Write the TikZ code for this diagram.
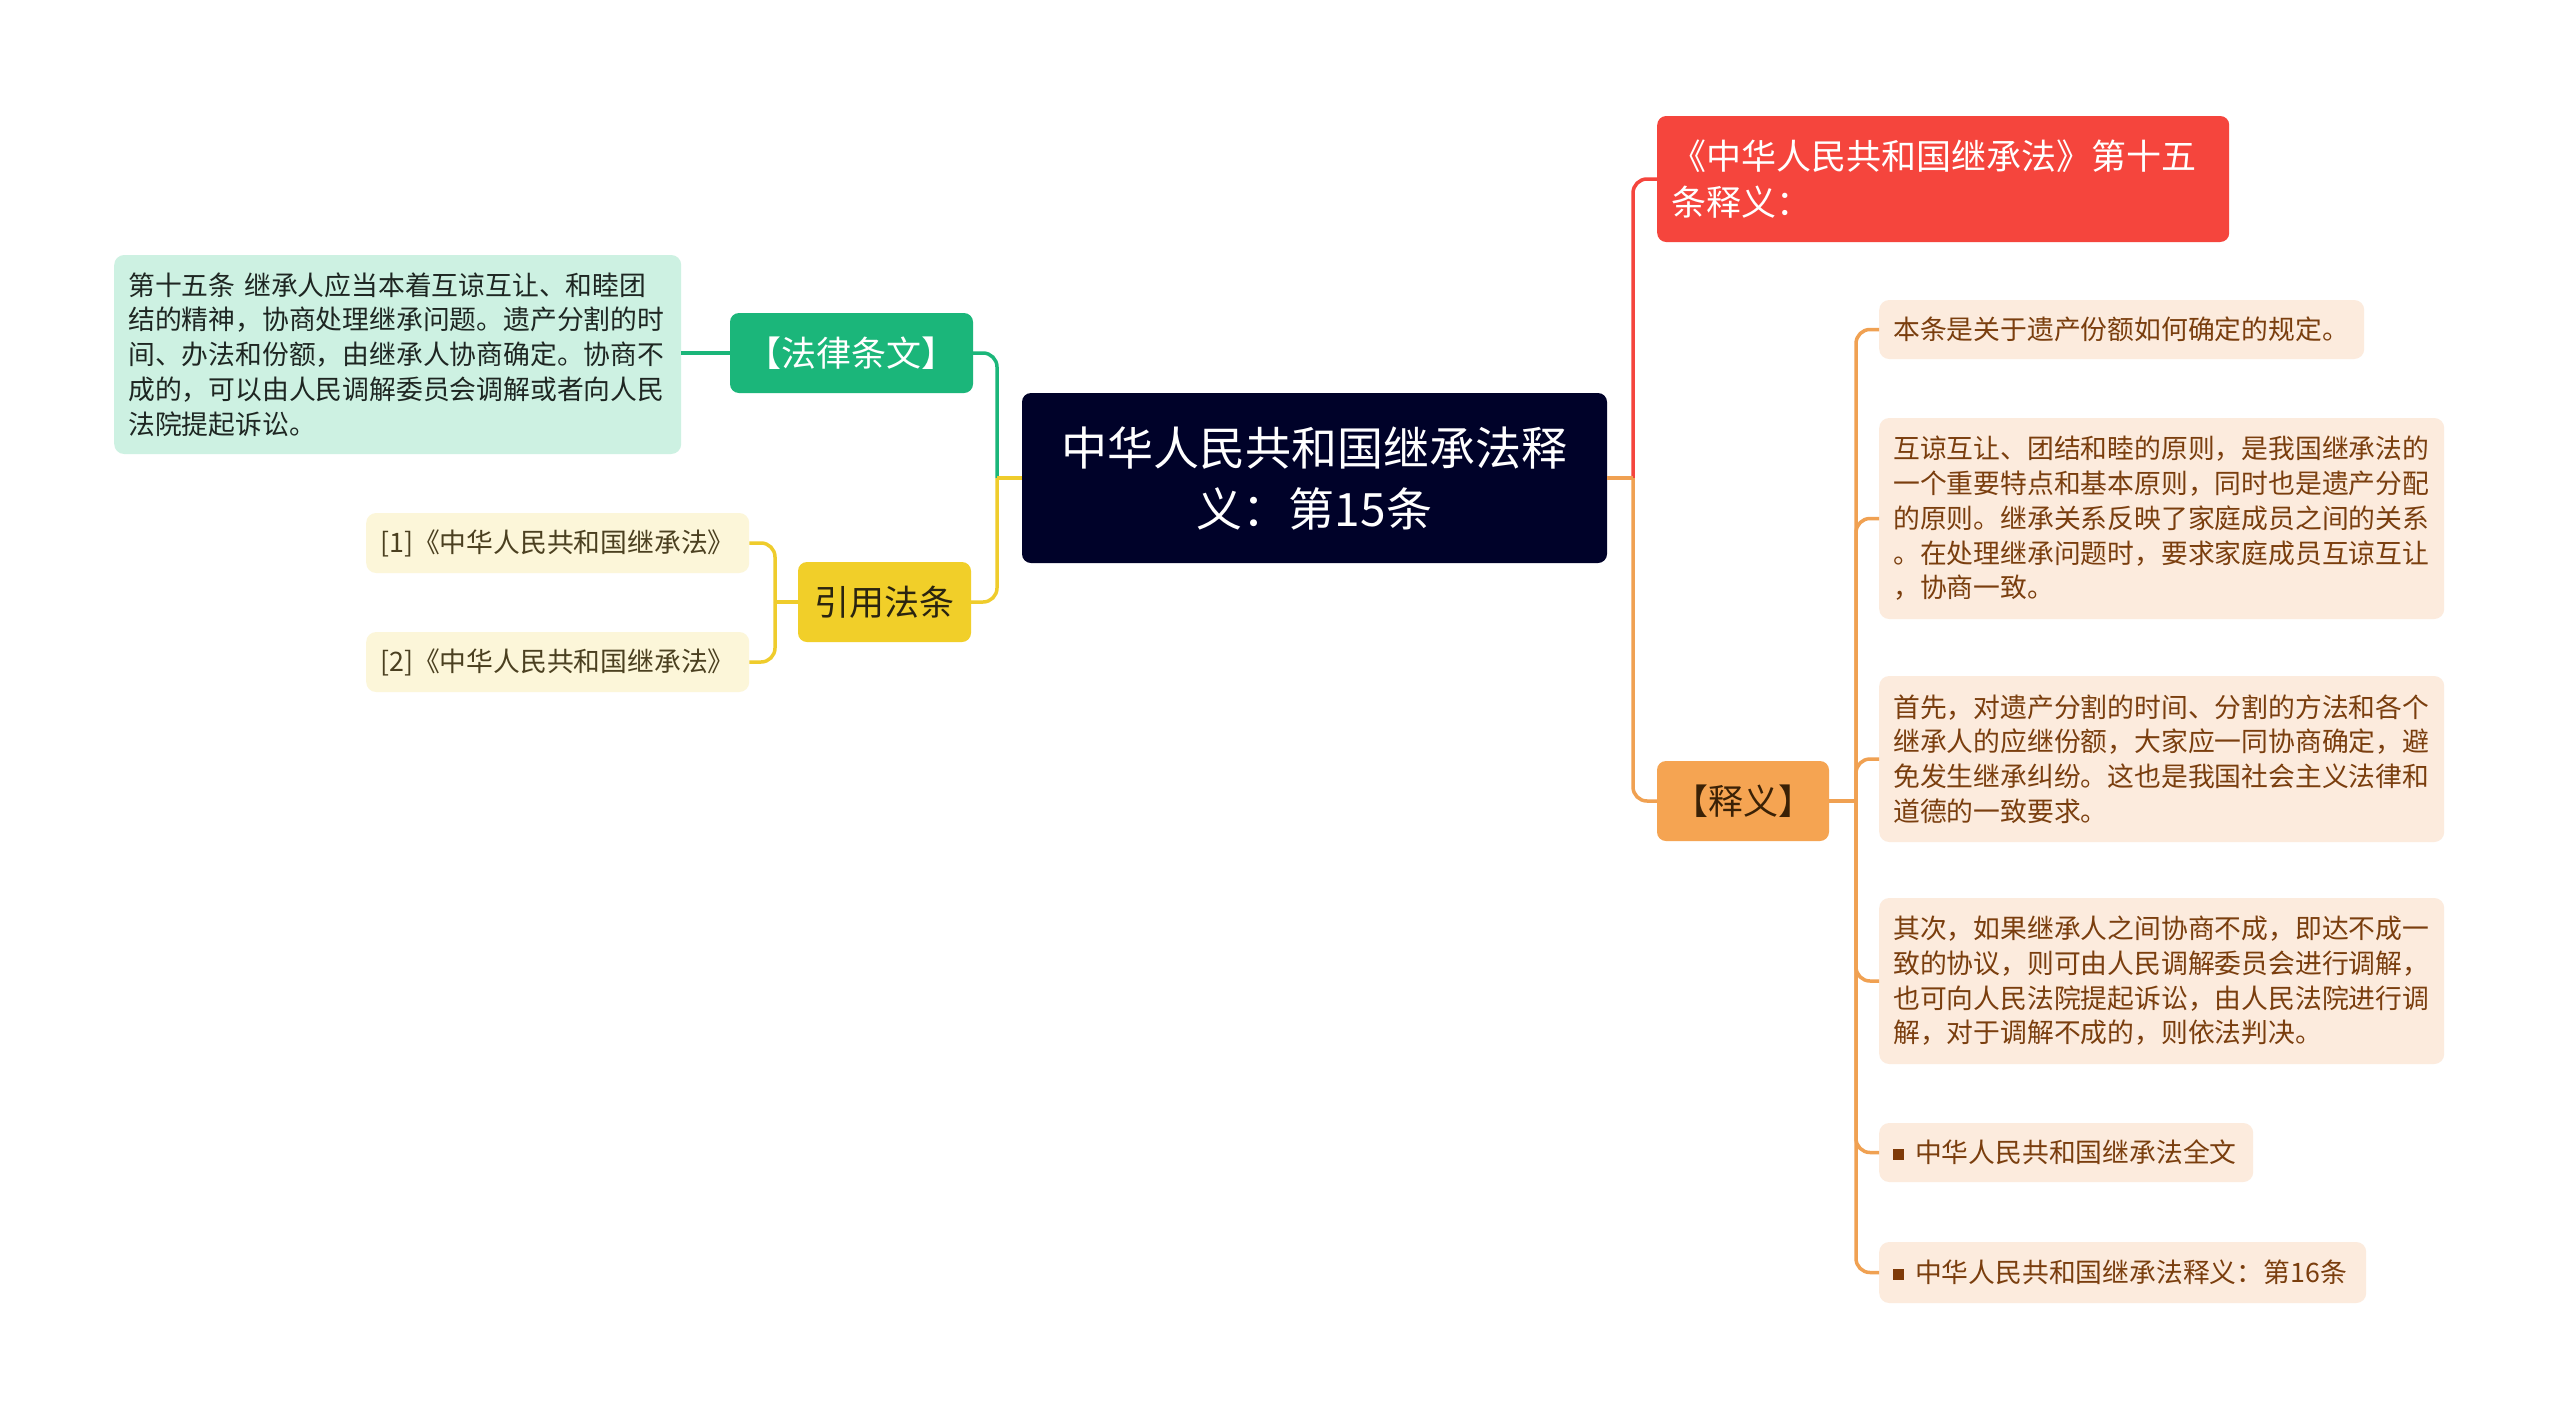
\documentclass[tikz,border=0pt]{standalone}
\usepackage{fontspec}
\newfontfamily\cjk{Noto Sans CJK SC}
\definecolor{navy}{HTML}{000229}
\definecolor{gmain}{HTML}{1BB67A}
\definecolor{gleaf}{HTML}{CDF1E2}
\definecolor{ymain}{HTML}{F1CF29}
\definecolor{yline}{HTML}{EFCC2C}
\definecolor{yleaf}{HTML}{FCF6D9}
\definecolor{rmain}{HTML}{F5453D}
\definecolor{omain}{HTML}{F5A452}
\definecolor{oline}{HTML}{F0A152}
\definecolor{oleaf}{HTML}{FCEBDD}
\definecolor{otext}{HTML}{7A3E0E}
\definecolor{bul}{HTML}{7F3A08}
\definecolor{ytext}{HTML}{4B4020}
\definecolor{dtext}{HTML}{2A2410}
\definecolor{gtext}{HTML}{1E2622}
\definecolor{etext}{HTML}{3A2106}
\newcommand{\bulsq}{\textcolor{bul}{\rule[0.1em]{0.4em}{0.4em}}\hspace{0.42em}}
\begin{document}
\begin{tikzpicture}[x=1pt,y=-1pt,
  basebox/.style={rounded corners=9, inner xsep=14, inner ysep=6},
  centralbox/.style={basebox, fill=navy, text=white, minimum width=585, minimum height=170, align=center,
    font=\cjk\fontsize{46}{61}\selectfont},
  redbox/.style={basebox, fill=rmain, text=white, text width=544, minimum height=126, align=left,
    font=\cjk\fontsize{35}{46}\selectfont},
  mainbox/.style={basebox, minimum height=80, align=center, font=\cjk\fontsize{35}{42}\selectfont},
  leafbox/.style={rounded corners=10, inner xsep=14, inner ysep=6, align=left,
    font=\cjk\fontsize{26.8}{34.7}\selectfont},
  gleafbox/.style={leafbox, fill=gleaf, text=gtext},
  yleafbox/.style={leafbox, fill=yleaf, text=ytext, text width=355, minimum height=60},
  oleafbox/.style={leafbox, fill=oleaf, text=otext},
  link/.style={line width=3.5, rounded corners=14},
]
\useasboundingbox[fill=white] (0,0) rectangle (2560,1419);

% nodes
\node[centralbox] (c) at (1314.5,478) {中华人民共和国继承法释\\义：第15条};
\node[redbox, anchor=west] (r) at (1657,179) {《中华人民共和国继承法》第十五\\条释义：};
\node[mainbox, fill=omain, text=etext, minimum width=172] (e) at (1743,801) {【释义】};
\node[mainbox, fill=gmain, text=white, minimum width=243] (g) at (851.5,353) {【法律条文】};
\node[mainbox, fill=ymain, text=dtext, minimum width=173] (y) at (884.5,602) {引用法条};

\node[gleafbox, anchor=west, text width=539, minimum height=199] (gl) at (114,354.5)
  {第十五条 继承人应当本着互谅互让、和睦团\\结的精神，协商处理继承问题。遗产分割的时\\间、办法和份额，由继承人协商确定。协商不\\成的，可以由人民调解委员会调解或者向人民\\法院提起诉讼。};

\node[yleafbox, anchor=west] (y1) at (366,543) {[1]《中华人民共和国继承法》};
\node[yleafbox, anchor=west] (y2) at (366,662) {[2]《中华人民共和国继承法》};

\node[oleafbox, anchor=west, text width=457, minimum height=59] (o1) at (1879,329.5)
  {本条是关于遗产份额如何确定的规定。};
\node[oleafbox, anchor=west, text width=537, minimum height=201] (o2) at (1879,518.5)
  {互谅互让、团结和睦的原则，是我国继承法的\\一个重要特点和基本原则，同时也是遗产分配\\的原则。继承关系反映了家庭成员之间的关系\\。在处理继承问题时，要求家庭成员互谅互让\\，协商一致。};
\node[oleafbox, anchor=west, text width=537, minimum height=166] (o3) at (1879,759)
  {首先，对遗产分割的时间、分割的方法和各个\\继承人的应继份额，大家应一同协商确定，避\\免发生继承纠纷。这也是我国社会主义法律和\\道德的一致要求。};
\node[oleafbox, anchor=west, text width=537, minimum height=166] (o4) at (1879,981)
  {其次，如果继承人之间协商不成，即达不成一\\致的协议，则可由人民调解委员会进行调解，\\也可向人民法院提起诉讼，由人民法院进行调\\解，对于调解不成的，则依法判决。};
\node[oleafbox, anchor=west, text width=346, minimum height=59] (o5) at (1879,1152.5)
  {\bulsq 中华人民共和国继承法全文};
\node[oleafbox, anchor=west, text width=459, minimum height=61] (o6) at (1879,1272.5)
  {\bulsq 中华人民共和国继承法释义：第16条};

% junctions
\coordinate (jl) at (997,478);
\coordinate (jr) at (1633,478);
\coordinate (jo) at (1856,801);
\coordinate (jy) at (775,602);

% connectors
\draw[link, gmain] (g.east) -| (jl);
\draw[link, gmain] (g.west) -- (g.west -| gl.east);
\draw[link, yline] (y.east) -| (jl);
\draw[link, yline] (jl) -- (c.west);
\draw[link, yline] (y.west) -- (jy);
\draw[link, yline] (jy) |- (y1.east);
\draw[link, yline] (jy) |- (y2.east);

\draw[link, rmain] (jr) |- (r.west);
\draw[link, oline] (jr) |- (e.west);
\draw[link, oline] (c.east) -- (jr);
\draw[link, oline] (e.east) -- (jo);
\foreach \n in {o1,o2,o3,o4,o5,o6}
  \draw[link, oline] (jo) |- (\n.west);
\end{tikzpicture}
\end{document}
